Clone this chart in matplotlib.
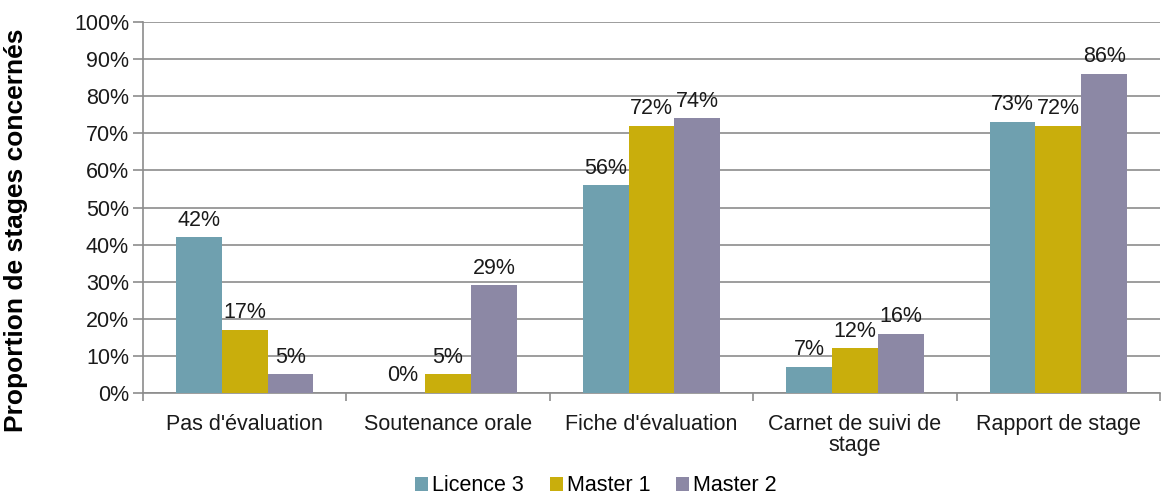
import matplotlib
matplotlib.use("Agg")
import matplotlib.pyplot as plt
import numpy as np

categories = ["Pas d'évaluation", "Soutenance orale", "Fiche d'évaluation", "Carnet de suivi de\nstage", "Rapport de stage"]
series_names = ["Licence 3", "Master 1", "Master 2"]
licence3 = [42, 0, 56, 7, 73]
master1 = [17, 5, 72, 12, 72]
master2 = [5, 29, 74, 16, 86]
colors = ["#6FA0AF", "#C9AE0C", "#8C88A5"]

plt.rcParams['font.family'] = ['Liberation Sans', 'DejaVu Sans']

fig = plt.figure(figsize=(11.62, 4.95), dpi=100)
ax = fig.add_axes([143/1162, 1-393/495, (1160-143)/1162, (393-22)/495])

fs = 15.5
x = np.arange(len(categories))
w = 0.225
for i, (vals, name, c) in enumerate(zip([licence3, master1, master2], series_names, colors)):
    pos = x + (i - 1) * w
    ax.bar(pos, vals, width=w, color=c, label=name, zorder=3)
    for p, v in zip(pos, vals):
        ax.text(p, v + 1.8, f"{v}%", ha='center', va='bottom', fontsize=fs, color='#1a1a1a', zorder=4)

ax.set_xlim(-0.5, len(categories) - 0.5)
ax.set_ylim(0, 100)
ax.set_yticks(np.arange(0, 101, 10))
ax.set_yticklabels([f"{t}%" for t in range(0, 101, 10)], fontsize=fs, color='#1a1a1a')
ax.yaxis.grid(True, color='#8c8c8c', linewidth=1.2, zorder=0)
ax.set_axisbelow(True)

ax.set_xticks(x)
ax.set_xticklabels(categories, fontsize=fs, color='#1a1a1a', linespacing=1.0)
ax.set_xticks(np.arange(-0.5, len(categories) + 0.5, 1), minor=True)
ax.tick_params(axis='x', which='major', length=0, pad=15)
ax.tick_params(axis='x', which='minor', length=6, color='#8c8c8c', width=1.2)
ax.tick_params(axis='y', length=7, color='#8c8c8c', width=1.2, pad=3)

for s in ['top', 'right']:
    ax.spines[s].set_visible(False)
for s in ['left', 'bottom']:
    ax.spines[s].set_color('#8c8c8c')
    ax.spines[s].set_linewidth(1.2)

ax.set_ylabel("Proportion de stages concernés", fontsize=19, fontweight='bold')
ax.yaxis.set_label_coords(-(143-28)/1017, 0.44)

fig.legend(loc='lower center', bbox_to_anchor=(596/1162, -0.042), ncol=3, frameon=False,
           fontsize=fs, handlelength=0.6, handleheight=0.6, handletextpad=0.2, columnspacing=1.2)

fig.savefig("out.png", dpi=100)
